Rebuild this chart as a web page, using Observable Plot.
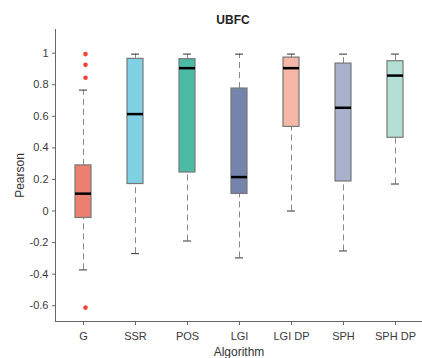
<!DOCTYPE html>
<html>
<head>
<meta charset="utf-8">
<script src="https://cdn.jsdelivr.net/npm/d3@7"></script>
<script src="https://cdn.jsdelivr.net/npm/@observablehq/plot@0.6"></script>
<style>
  body { margin: 0; background: #fff; font-family: "Liberation Sans", Arial, sans-serif; }
  #title { height: 29px; width: 422px; position: relative; }
  #title span { position: absolute; left: 233px; top: 13px; transform: translateX(-50%); font-weight: bold; font-size: 12px; color: #222; }
</style>
</head>
<body>
<div id="title"><span>UBFC</span></div>
<div id="chart"></div>
<script>
const algorithms = ["G", "SSR", "POS", "LGI", "LGI DP", "SPH", "SPH DP"];
const whiskerLow  = [-0.373, -0.270, -0.190, -0.297, 0.000, -0.253, 0.171];
const q1          = [-0.044, 0.171, 0.244, 0.108, 0.533, 0.187, 0.464];
const median      = [0.110, 0.614, 0.905, 0.215, 0.905, 0.654, 0.858];
const q3          = [0.289, 0.964, 0.962, 0.776, 0.972, 0.934, 0.949];
const whiskerHigh = [0.766, 0.994, 0.994, 0.994, 0.994, 0.994, 0.994];
const colors      = ["#ec8070", "#7fd0e2", "#4cbba6", "#7584ab", "#f6b8a6", "#a9b1cd", "#b3e0d5"];
const outlierAlgo  = ["G", "G", "G", "G"];
const outlierValue = [0.994, 0.926, 0.844, -0.612];
const yTicks = [-0.6, -0.4, -0.2, 0, 0.2, 0.4, 0.6, 0.8, 1];

const boxes = algorithms.map((a, i) => ({
  algo: a, lo: whiskerLow[i], q1: q1[i], med: median[i], q3: q3[i], hi: whiskerHigh[i], color: colors[i]
}));
const outliers = outlierAlgo.map((a, i) => ({algo: a, v: outlierValue[i]}));

const chart = Plot.plot({
  width: 422,
  height: 329,
  marginTop: 0,
  marginLeft: 55,
  marginRight: 0,
  marginBottom: 37,
  style: {fontFamily: "Liberation Sans, Arial, sans-serif", fontSize: "11px", color: "#3a3a3a", background: "white"},
  x: {domain: algorithms, padding: 0},
  y: {domain: [-0.7, 1.15]},
  color: {domain: algorithms, range: colors},
  marks: [
    Plot.frame({anchor: "left", stroke: "#666"}),
    Plot.frame({anchor: "bottom", stroke: "#666"}),
    Plot.axisY({ticks: yTicks, tickSize: 3, tickPadding: 4, tickFormat: d => String(+d.toFixed(1)), label: "Pearson", labelAnchor: "center", labelArrow: "none", labelOffset: 40, fontSize: 11, stroke: "#666"}),
    Plot.axisX({tickSize: 4, tickPadding: 7, label: "Algorithm", labelAnchor: "center", labelArrow: "none", labelOffset: 34, fontSize: 11, stroke: "#666"}),
    Plot.ruleX(boxes, {x: "algo", y1: "q3", y2: "hi", stroke: "#888", strokeDasharray: "6,4", strokeWidth: 1}),
    Plot.ruleX(boxes, {x: "algo", y1: "lo", y2: "q1", stroke: "#888", strokeDasharray: "6,4", strokeWidth: 1}),
    Plot.tickY(boxes, {x: "algo", y: "hi", stroke: "#333", strokeWidth: 1, insetLeft: 22, insetRight: 22}),
    Plot.tickY(boxes, {x: "algo", y: "lo", stroke: "#333", strokeWidth: 1, insetLeft: 22, insetRight: 22}),
    Plot.barY(boxes, {x: "algo", y1: "q1", y2: "q3", fill: "algo", stroke: "#777", strokeWidth: 1.2, insetLeft: 18, insetRight: 18}),
    Plot.tickY(boxes, {x: "algo", y: "med", stroke: "#000", strokeWidth: 2.5, insetLeft: 18, insetRight: 18}),
    Plot.dot(outliers, {x: "algo", y: "v", r: 2.3, fill: "#f04535", stroke: "none", dx: 2})
  ]
});
chart.querySelectorAll('[aria-label="y-axis label"] text, [aria-label="x-axis label"] text').forEach(t => { t.setAttribute("font-size", "12"); t.setAttribute("fill", "#333"); });
document.getElementById("chart").appendChild(chart);
</script>
</body>
</html>
